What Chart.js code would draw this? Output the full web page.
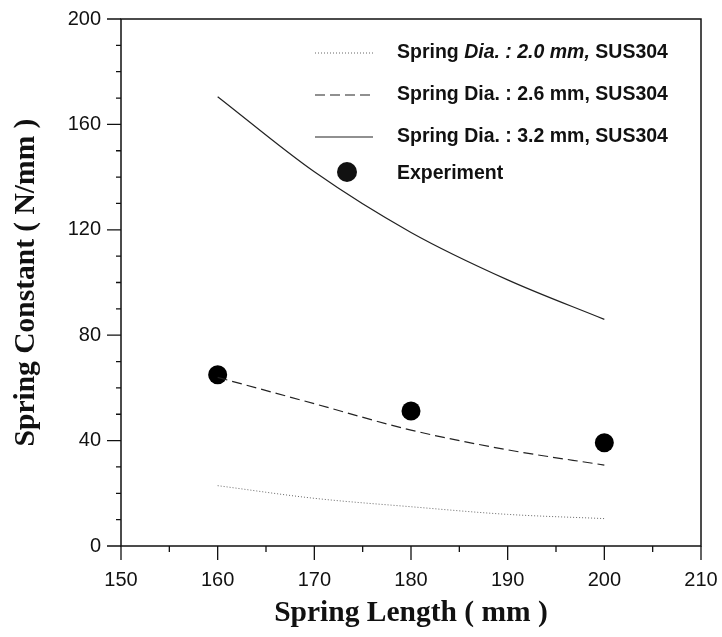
<!DOCTYPE html>
<html>
<head>
<meta charset="utf-8">
<script src="https://cdn.jsdelivr.net/npm/chart.js@4"></script>
<style>
  html, body { margin: 0; padding: 0; background: #fff; }
  #wrap { width: 722px; height: 637px; }
</style>
</head>
<body>
<div id="wrap"><canvas id="springChart" width="722" height="637"></canvas></div>
<script>
// spring length (mm) where the curves were read
const lengths = [160, 170, 180, 190, 200];
// calculated spring constant (N/mm) for each wire diameter
const dia20 = [22.9, 18.1, 14.9, 12.0, 10.4];
const dia26 = [64.0, 54.0, 44.0, 36.5, 30.7];
const dia32 = [170.5, 142.0, 119.0, 101.0, 86.0];
// measured points
const expLength = [160, 180, 200];
const expValue = [65.0, 51.2, 39.2];

const xTicks = [150, 160, 170, 180, 190, 200, 210];
const yTicks = [0, 40, 80, 120, 160, 200];

const seriesLabels = [
    'Spring Dia. : 2.0 mm, SUS304',
    'Spring Dia. : 2.6 mm, SUS304',
    'Spring Dia. : 3.2 mm, SUS304',
    'Experiment'
];

function toPoints(xs, ys) {
    return xs.map((x, i) => ({ x: x, y: ys[i] }));
}

// frame, minor/major tick marks and the boxed-in legend
const framePlugin = {
    id: 'frame',
    afterDraw(chart) {
        const ctx = chart.ctx;
        const xs = chart.scales.x;
        const ys = chart.scales.y;
        const a = chart.chartArea;
        ctx.save();
        ctx.strokeStyle = '#111';
        ctx.lineWidth = 1.5;
        ctx.strokeRect(a.left, a.top, a.right - a.left, a.bottom - a.top);

        ctx.lineWidth = 1.3;
        ctx.beginPath();
        for (let v = 150; v <= 210; v += 5) {
            const px = xs.getPixelForValue(v);
            const len = v % 10 === 0 ? 14 : 6;
            ctx.moveTo(px, a.bottom);
            ctx.lineTo(px, a.bottom + len);
        }
        for (let v = 0; v <= 200; v += 10) {
            const py = ys.getPixelForValue(v);
            const len = v % 40 === 0 ? 14 : 5;
            ctx.moveTo(a.left, py);
            ctx.lineTo(a.left - len, py);
        }
        ctx.stroke();

        // legend
        const rows = [53, 95, 137, 174];
        const sx0 = 315, sx1 = 373, tx = 397;
        ctx.textBaseline = 'middle';
        ctx.fillStyle = '#111';
        chart.data.datasets.forEach((ds, i) => {
            const y = rows[i];
            if (ds.showLine) {
                ctx.strokeStyle = ds.borderColor;
                ctx.lineWidth = ds.borderWidth;
                ctx.setLineDash(ds.borderDash || []);
                ctx.beginPath();
                ctx.moveTo(sx0, y);
                ctx.lineTo(sx1, y);
                ctx.stroke();
                ctx.setLineDash([]);
            } else {
                ctx.beginPath();
                ctx.arc(347, y - 2, 10, 0, Math.PI * 2);
                ctx.fill();
            }
            let x = tx;
            let parts = [[ds.label, false]];
            if (i === 0) {
                parts = [['Spring ', false], ['Dia. : 2.0 mm,', true], [' SUS304', false]];
            }
            parts.forEach(p => {
                ctx.font = (p[1] ? 'italic ' : '') + 'bold 19.5px "Liberation Sans", Arial, sans-serif';
                ctx.fillText(p[0], x, y);
                x += ctx.measureText(p[0]).width;
            });
        });
        ctx.restore();
    }
};

const ctx = document.getElementById('springChart').getContext('2d');
const chart = new Chart(ctx, {
    type: 'scatter',
    data: {
        datasets: [{
            label: seriesLabels[0],
            data: toPoints(lengths, dia20),
            showLine: true,
            borderColor: '#666',
            borderWidth: 1,
            borderDash: [1, 2],
            pointRadius: 0,
            cubicInterpolationMode: 'monotone'
        }, {
            label: seriesLabels[1],
            data: toPoints(lengths, dia26),
            showLine: true,
            borderColor: '#222',
            borderWidth: 1.2,
            borderDash: [10, 5],
            pointRadius: 0,
            cubicInterpolationMode: 'monotone'
        }, {
            label: seriesLabels[2],
            data: toPoints(lengths, dia32),
            showLine: true,
            borderColor: '#222',
            borderWidth: 1.2,
            pointRadius: 0,
            cubicInterpolationMode: 'monotone'
        }, {
            label: seriesLabels[3],
            data: toPoints(expLength, expValue),
            showLine: false,
            backgroundColor: '#000',
            borderColor: '#000',
            pointRadius: 9.5,
            pointBorderWidth: 0
        }]
    },
    options: {
        responsive: false,
        animation: false,
        layout: { padding: { top: 19, right: 21, left: 0, bottom: 0 } },
        plugins: {
            legend: { display: false },
            tooltip: { enabled: false }
        },
        scales: {
            x: {
                type: 'linear',
                min: 150,
                max: 210,
                afterBuildTicks: s => { s.ticks = xTicks.map(v => ({ value: v })); },
                afterFit: s => {
                    s.height = 91;
                    s.paddingLeft = 0;
                    s.paddingRight = 0;
                },
                grid: { drawOnChartArea: false, drawTicks: false },
                border: { display: false },
                ticks: {
                    padding: 22,
                    color: '#111',
                    font: { family: '"Liberation Sans", Arial, sans-serif', size: 20 }
                },
                title: {
                    display: true,
                    text: 'Spring Length ( mm )',
                    color: '#111',
                    padding: { top: 0, bottom: 6 },
                    font: { family: '"Liberation Serif", "Times New Roman", serif', size: 29.5, weight: 'bold' }
                }
            },
            y: {
                type: 'linear',
                min: 0,
                max: 200,
                afterBuildTicks: s => { s.ticks = yTicks.map(v => ({ value: v })); },
                afterFit: s => {
                    s.width = 121;
                    s.paddingTop = 0;
                    s.paddingBottom = 0;
                },
                grid: { drawOnChartArea: false, drawTicks: false },
                border: { display: false },
                ticks: {
                    padding: 20,
                    color: '#111',
                    font: { family: '"Liberation Sans", Arial, sans-serif', size: 20 }
                },
                title: {
                    display: true,
                    text: 'Spring Constant ( N/mm )',
                    color: '#111',
                    padding: { top: 9, bottom: 0 },
                    font: { family: '"Liberation Serif", "Times New Roman", serif', size: 29.5, weight: 'bold' }
                }
            }
        }
    },
    plugins: [framePlugin]
});
</script>
</body>
</html>
